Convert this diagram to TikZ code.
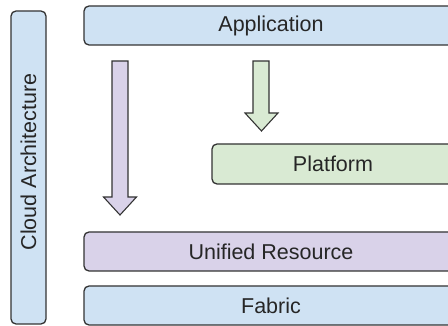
\documentclass[tikz,border=0pt]{standalone}
\usepackage{fontspec}
\setmainfont{Liberation Sans}
\definecolor{bluef}{HTML}{CFE2F3}
\definecolor{greenf}{HTML}{D9EAD3}
\definecolor{purplef}{HTML}{D9D2E9}
\definecolor{edge}{HTML}{333333}
\tikzset{
  layer/.style={draw=edge, line width=1.3pt, rounded corners=5pt, inner sep=0pt,
    font=\fontsize{21.5}{25}\selectfont, text=black!85},
  blockarrow/.style={draw=edge, line width=1.1pt, line join=miter},
}
\begin{document}
\begin{tikzpicture}[x=1pt,y=-1pt]
\useasboundingbox (0,0) rectangle (448,326);
\clip (0,0) rectangle (448,326);
\node[layer, fill=bluef, minimum width=313pt, minimum height=35pt, rotate=90] (cloud) at (28.5,167.5) {\hspace{11pt}Cloud Architecture};
\node[layer, fill=bluef, minimum width=374pt, minimum height=39pt] (app) at (271,25.5) {Application};
\node[layer, fill=greenf, minimum width=242pt, minimum height=40pt] (plat) at (333,164) {Platform};
\node[layer, fill=purplef, minimum width=374pt, minimum height=39pt] (unif) at (271,251.5) {Unified Resource};
\node[layer, fill=bluef, minimum width=374pt, minimum height=39pt] (fab) at (271,305.5) {Fabric};
\draw[blockarrow, fill=purplef] (112,61) -- (128,61) -- (128,197) -- (136.5,197) -- (120,215) -- (103.5,197) -- (112,197) -- cycle;
\draw[blockarrow, fill=greenf] (253,61) -- (269,61) -- (269,113) -- (278,113) -- (261.5,131) -- (245,113) -- (253,113) -- cycle;
\end{tikzpicture}
\end{document}
